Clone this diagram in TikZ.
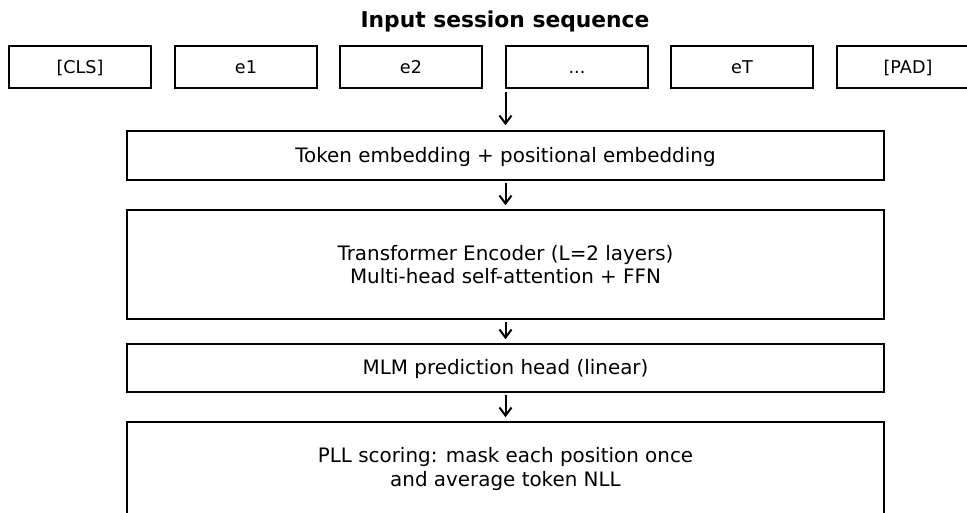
\documentclass[tikz,border=0pt]{standalone}
\usepackage{fontspec}
\setmainfont{DejaVu Sans}
\usetikzlibrary{arrows.meta}
\begin{document}
\begin{tikzpicture}[x=1pt,y=-1pt,
  tokbox/.style={draw=black,line width=1.6pt,minimum width=142pt,minimum height=42pt,inner sep=0pt,text height=15.4pt,text depth=3pt,font=\fontsize{17.6}{21}\selectfont},
  bigbox/.style={draw=black,line width=1.6pt,minimum width=757pt,inner sep=0pt,align=center,font=\fontsize{19.9}{23.5}\selectfont},
  oneline/.style={text height=17pt,text depth=4pt},
  flow/.style={draw=black,line width=2pt,-{Straight Barb[length=8pt,width=12pt]}}]
\useasboundingbox (0,0) rectangle (967,512);
\clip (0,0) rectangle (967,512);
\fill[white] (0,0) rectangle (967,512);
\node[font=\fontsize{21.8}{26}\selectfont\bfseries] (title) at (505,21.5) {Input session sequence};
\node[tokbox] (cls) at (80,67) {[CLS]};
\node[tokbox] (e1) at (246,67) {e1};
\node[tokbox] (e2) at (411,67) {e2};
\node[tokbox] (dots) at (577,67) {...};
\node[tokbox] (eT) at (742,67) {eT};
\node[tokbox] (pad) at (908,67) {[PAD]};
\coordinate (seqbot) at (505.5,92);
\node[bigbox,oneline,minimum height=49pt] (emb) at (505.5,155.5) {Token embedding + positional embedding};
\node[bigbox,minimum height=109pt] (enc) at (505.5,264.5) {Transformer Encoder (L=2 layers)\\Multi-head self-attention + FFN};
\node[bigbox,oneline,minimum height=48pt] (mlm) at (505.5,368) {MLM prediction head (linear)};
\node[bigbox,minimum height=109pt] (pll) at (505.5,476.5) {};
\node[align=center,font=\fontsize{19.9}{23.5}\selectfont] (plltext) at (505.5,469) {PLL scoring: mask each position once\\and average token NLL};
\path[flow] (seqbot) -- ([yshift=5pt]emb.north);
\path[flow] ([yshift=-2pt]emb.south) -- ([yshift=4pt]enc.north);
\path[flow] ([yshift=-2pt]enc.south) -- ([yshift=4pt]mlm.north);
\path[flow] ([yshift=-2pt]mlm.south) -- ([yshift=4pt]pll.north);
\end{tikzpicture}
\end{document}
